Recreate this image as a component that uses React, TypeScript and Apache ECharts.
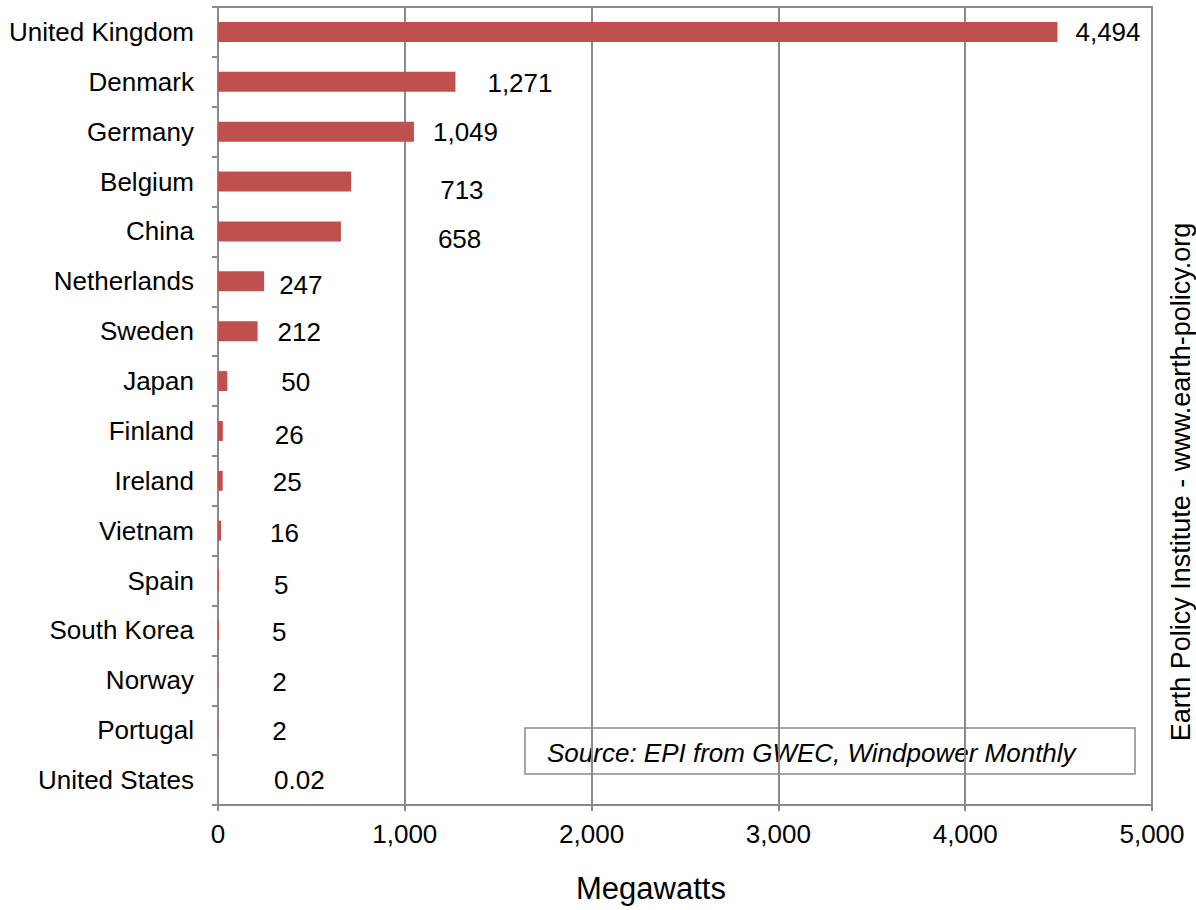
import React, { useEffect, useRef } from "react";
import * as echarts from "echarts";

const countries = [
  "United Kingdom", "Denmark", "Germany", "Belgium", "China", "Netherlands", "Sweden", "Japan",
  "Finland", "Ireland", "Vietnam", "Spain", "South Korea", "Norway", "Portugal", "United States",
];
const megawatts = [4494, 1271, 1049, 713, 658, 247, 212, 50, 26, 25, 16, 5, 5, 2, 2, 0.02];
const xTicks = [0, 1000, 2000, 3000, 4000, 5000];
// label nudges (pixels) as placed in the original
const labelDx = [18, 32, 19, 89, 97, 15, 20, 54, 52, 50, 49, 55, 53, 54, 54, 56];
const labelDy = [0, 1, 0, 8, 8, 4, 1, 1, 4, 1, 2, 4, 2, 2, 1, 0];

const FONT = "'Liberation Sans', Arial, Helvetica, sans-serif";
const GRAY = "#8a8a8a";

export default function App() {
  const ref = useRef<HTMLDivElement>(null);
  useEffect(() => {
    const chart = echarts.init(ref.current!, undefined, { renderer: "svg" });
    const fmt = (v: number) => v.toLocaleString("en-US");
    chart.setOption({
      animation: false,
      textStyle: { fontFamily: FONT },
      grid: {
        left: 218, right: 44, top: 7, bottom: 105,
        show: true, borderColor: GRAY, borderWidth: 2, backgroundColor: "transparent",
      },
      xAxis: {
        type: "value",
        min: xTicks[0],
        max: xTicks[xTicks.length - 1],
        interval: 1000,
        axisLine: { show: true, lineStyle: { color: GRAY, width: 2 } },
        axisTick: { show: true, length: 6, lineStyle: { color: GRAY, width: 2 } },
        splitLine: { show: true, lineStyle: { color: GRAY, width: 2 } },
        axisLabel: { color: "#000", fontSize: 26, fontFamily: FONT, margin: 16, formatter: (v: number) => fmt(v) },
      },
      yAxis: {
        type: "category",
        data: countries,
        inverse: true,
        axisLine: { show: true, lineStyle: { color: GRAY, width: 2 } },
        axisTick: { show: true, length: 6, lineStyle: { color: GRAY, width: 2 } },
        axisLabel: { color: "#000", fontSize: 26, fontFamily: FONT, margin: 24 },
        splitLine: { show: false },
      },
      series: [
        {
          type: "bar",
          barWidth: "40%",
          itemStyle: { color: "#C0504D" },
          data: megawatts.map((v, i) => ({
            value: v,
            label: {
              show: true,
              position: "right",
              distance: 0,
              offset: [labelDx[i], labelDy[i]],
              color: "#000",
              fontSize: 26,
              fontFamily: FONT,
              formatter: () => fmt(v),
            },
          })),
        },
      ],
      graphic: [
        {
          type: "text",
          x: 651, y: 888,
          style: { text: "Megawatts", font: `31px ${FONT}`, fill: "#000", align: "center", verticalAlign: "middle" },
        },
        {
          type: "text",
          x: 1181, y: 482,
          rotation: Math.PI / 2,
          style: { text: "Earth Policy Institute - www.earth-policy.org", font: `27px ${FONT}`, fill: "#000", align: "center", verticalAlign: "middle" },
        },
        {
          type: "rect",
          shape: { x: 525, y: 728, width: 610, height: 46 },
          style: { fill: "#fff", stroke: GRAY, lineWidth: 1.5 },
        },
        {
          type: "text",
          x: 547, y: 753,
          style: { text: "Source: EPI from GWEC, Windpower Monthly", font: `italic 26px ${FONT}`, fill: "#000", align: "left", verticalAlign: "middle" },
        },
      ],
    });
    return () => chart.dispose();
  }, []);
  return <div ref={ref} style={{ position: "absolute", left: 0, top: 0, width: 1196, height: 910 }} />;
}
